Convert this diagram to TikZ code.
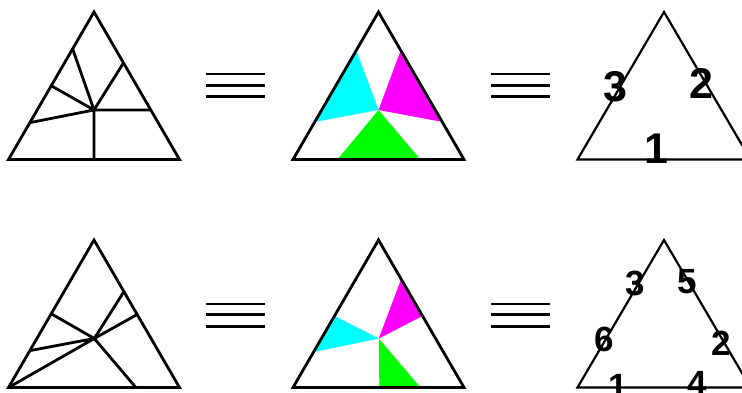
\documentclass[tikz,border=0pt]{standalone}
\usepackage{fontspec}
\setmainfont{Liberation Sans}
\usetikzlibrary{calc}
\definecolor{cy}{RGB}{0,255,255}
\definecolor{mg}{RGB}{255,0,255}
\definecolor{gr}{RGB}{0,255,0}
\begin{document}
\begin{tikzpicture}[x=1pt,y=-1pt,
  edge/.style={line width=2.8pt},
  cut/.style={line width=2.8pt},
  thinedge/.style={line width=2.2pt},
  eqline/.style={line width=2.8pt},
  lab/.style={font=\bfseries\fontsize{43}{43}\selectfont, anchor=base, inner sep=0pt},
  slab/.style={font=\bfseries\fontsize{35}{35}\selectfont, anchor=base, inner sep=0pt}]
\useasboundingbox (0,0) rectangle (742,393);
\clip (0,0) rectangle (742,393);
% ---------- top row ----------
% triangle 1 (dissected)
\coordinate (A1) at (94,12);   \coordinate (L1) at (8.5,159.5);   \coordinate (R1) at (179.5,159.5);
\coordinate (P1) at (94,110);
\coordinate (a1) at ($(A1)!0.25!(L1)$);
\coordinate (b1) at ($(A1)!0.5!(L1)$);
\coordinate (c1) at ($(A1)!0.75!(L1)$);
\coordinate (d1) at ($(L1)!0.5!(R1)$);
\coordinate (e1) at ($(A1)!0.665!(R1)$);
\coordinate (f1) at ($(A1)!0.345!(R1)$);
\draw[cut] (P1) -- (a1) (P1) -- (b1) (P1) -- (c1) (P1) -- (d1) (P1) -- (e1) (P1) -- (f1);
\draw[edge] (A1) -- (L1) -- (R1) -- cycle;
% triangle 2 (coloured)
\coordinate (A2) at (378.5,12); \coordinate (L2) at (293,159.5);  \coordinate (R2) at (464,159.5);
\coordinate (P2) at (378.5,110);
\fill[cy] (P2) -- ($(A2)!0.26!(L2)$) -- ($(A2)!0.745!(L2)$) -- cycle;
\fill[mg] (P2) -- ($(A2)!0.26!(R2)$) -- ($(A2)!0.745!(R2)$) -- cycle;
\fill[gr] (P2) -- ($(L2)!0.26!(R2)$) -- ($(L2)!0.745!(R2)$) -- cycle;
\draw[edge] (A2) -- (L2) -- (R2) -- cycle;
% triangle 3 (labelled)
\coordinate (A3) at (664,12);   \coordinate (L3) at (577.5,159.5); \coordinate (R3) at (750.5,159.5);
\draw[thinedge] (A3) -- (L3) -- (R3) -- cycle;
\node[lab] (t3) at (615,101.5) {3};
\node[lab] (t2) at (701,99) {2};
\node[lab] (t1) at (656,164) {1};
% equivalence signs
\foreach \x/\n in {206/p,491/q}{
  \coordinate (\n1a) at (\x,74);   \coordinate (\n1b) at (\x+59,74);
  \coordinate (\n2a) at (\x,85.5); \coordinate (\n2b) at (\x+59,85.5);
  \coordinate (\n3a) at (\x,96.5); \coordinate (\n3b) at (\x+59,96.5);
  \draw[eqline] (\n1a) -- (\n1b) (\n2a) -- (\n2b) (\n3a) -- (\n3b);
}
% ---------- bottom row ----------
\coordinate (A4) at (94,240);   \coordinate (L4) at (8.5,387.5);   \coordinate (R4) at (179.5,387.5);
\coordinate (P4) at (94.3,338.5);
\coordinate (a4) at ($(A4)!0.5!(L4)$);
\coordinate (b4) at ($(A4)!0.75!(L4)$);
\coordinate (c4) at ($(L4)!0.745!(R4)$);
\coordinate (d4) at ($(A4)!0.505!(R4)$);
\coordinate (e4) at ($(A4)!0.35!(R4)$);
\draw[cut] (P4) -- (a4) (P4) -- (b4) (P4) -- (L4) (P4) -- (c4) (P4) -- (d4) (P4) -- (e4);
\draw[edge] (A4) -- (L4) -- (R4) -- cycle;
% coloured
\coordinate (A5) at (378.5,240); \coordinate (L5) at (293,387.5);  \coordinate (R5) at (464,387.5);
\coordinate (P5) at (378.8,338.5);
\fill[cy] (P5) -- ($(A5)!0.515!(L5)$) -- ($(A5)!0.76!(L5)$) -- cycle;
\fill[mg] (P5) -- ($(A5)!0.265!(R5)$) -- ($(A5)!0.515!(R5)$) -- cycle;
\fill[gr] (P5) -- ($(L5)!0.505!(R5)$) -- ($(L5)!0.745!(R5)$) -- cycle;
\draw[edge] (A5) -- (L5) -- (R5) -- cycle;
% labelled
\coordinate (A6) at (664,240);  \coordinate (L6) at (577.5,387.5); \coordinate (R6) at (750.5,387.5);
\draw[thinedge] (A6) -- (L6) -- (R6) -- cycle;
\node[slab] (s3) at (635.5,295) {3};
\node[slab] (s5) at (687.5,293) {5};
\node[slab] (s6) at (604.5,351.5) {6};
\node[slab] (s2) at (721.5,355) {2};
\node[slab] (s1) at (618.5,398) {1};
\node[slab] (s4) at (697.5,395) {4};
% equivalence signs
\foreach \x/\n in {206/u,491/v}{
  \coordinate (\n1a) at (\x,304);   \coordinate (\n1b) at (\x+59,304);
  \coordinate (\n2a) at (\x,314.5); \coordinate (\n2b) at (\x+59,314.5);
  \coordinate (\n3a) at (\x,326.5); \coordinate (\n3b) at (\x+59,326.5);
  \draw[eqline] (\n1a) -- (\n1b) (\n2a) -- (\n2b) (\n3a) -- (\n3b);
}
\end{tikzpicture}
\end{document}
